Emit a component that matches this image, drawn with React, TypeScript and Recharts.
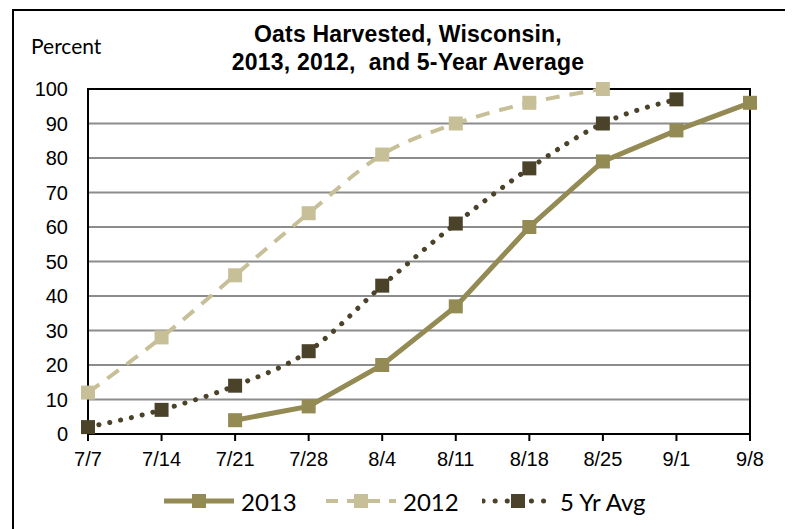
import { LineChart, Line, XAxis, YAxis, CartesianGrid, ReferenceArea } from 'recharts';

const weeks = ['7/7', '7/14', '7/21', '7/28', '8/4', '8/11', '8/18', '8/25', '9/1', '9/8'];
const y2013 = [null, null, 4, 8, 20, 37, 60, 79, 88, 96];
const y2012 = [12, 28, 46, 64, 81, 90, 96, 100, null, null];
const yAvg = [2, 7, 14, 24, 43, 61, 77, 90, 97, null];
const yTicks = [0, 10, 20, 30, 40, 50, 60, 70, 80, 90, 100];

const data = weeks.map((w, i) => ({ week: w, y2013: y2013[i], y2012: y2012[i], avg: yAvg[i] }));

const C2013 = '#948A54';
const C2012 = '#C7BF98';
const CAVG = '#4A4229';
const ARIAL = '"Liberation Sans", Arial, sans-serif';

const Square = (color: string) => (props: any) => {
  const { cx, cy, value } = props;
  if (value == null || cx == null || cy == null) return null;
  return <rect x={cx - 7} y={cy - 7} width={14} height={14} fill={color} />;
};

// legend entries: left edge of sample, sample width, text
const legendItems = [
  { name: '2013', color: C2013, dash: undefined, width: 5, cap: 'butt', x: 155 },
  { name: '2012', color: C2012, dash: '12 9', width: 4, cap: 'butt', x: 317 },
  { name: '5 Yr Avg', color: CAVG, dash: '0.1 12', width: 5, cap: 'round', x: 474 },
];

export default function App() {
  return (
    <div style={{ position: 'relative', width: 785, height: 521, background: '#fff' }}>
      <div style={{ position: 'absolute', left: 4, top: 1, width: 776, height: 540, border: '2px solid #000', borderBottom: 'none', boxSizing: 'border-box' }} />
      <div style={{ position: 'absolute', left: 0, width: 800, top: 12, textAlign: 'center', fontFamily: ARIAL, fontWeight: 'bold', fontSize: 23, lineHeight: '28px', letterSpacing: 0.2 }}>
        Oats Harvested, Wisconsin,<br />2013, 2012,&nbsp; and 5-Year Average
      </div>
      <div style={{ position: 'absolute', left: 23, top: 25, fontFamily: 'Lato, sans-serif', fontSize: 21 }}>Percent</div>
      <LineChart width={785} height={521} data={data} margin={{ top: 81, right: 43, bottom: 65, left: 0 }}>
        <CartesianGrid horizontal vertical={false} stroke="#8C8C8C" strokeWidth={2} />
        <XAxis dataKey="week" type="category" interval={0} stroke="#000" strokeWidth={2} tickSize={7} tickMargin={11}
          tick={{ fill: '#000', fontSize: 20, fontFamily: ARIAL }} />
        <YAxis domain={[0, 100]} ticks={yTicks} width={80} stroke="#000" strokeWidth={2} tickLine={false} tickSize={0} tickMargin={20}
          tick={{ fill: '#000', fontSize: 20, fontFamily: ARIAL }} />
        <ReferenceArea x1="7/7" x2="9/8" y1={0} y2={100} fill="none" stroke="#000" strokeWidth={2} fillOpacity={0} />
        <Line dataKey="y2012" stroke={C2012} strokeWidth={4} strokeDasharray="14 10" type="monotone" dot={Square(C2012)} isAnimationActive={false} />
        <Line dataKey="avg" stroke={CAVG} strokeWidth={5} strokeDasharray="0.1 11" strokeLinecap="round" type="monotone" dot={Square(CAVG)} isAnimationActive={false} />
        <Line dataKey="y2013" stroke={C2013} strokeWidth={5} type="linear" dot={Square(C2013)} isAnimationActive={false} />
      </LineChart>
      {legendItems.map((it) => (
        <div key={it.name} style={{ position: 'absolute', left: it.x, top: 478, height: 30, display: 'flex', alignItems: 'center', fontFamily: 'Lato, sans-serif', fontSize: 24 }}>
          <svg width={72} height={20}>
            <line x1={1} y1={10} x2={71} y2={10} stroke={it.color} strokeWidth={it.width} strokeDasharray={it.dash} strokeLinecap={it.cap as any} />
            <rect x={29} y={3} width={14} height={14} fill={it.color} />
          </svg>
          <span style={{ marginLeft: 6 }}>{it.name}</span>
        </div>
      ))}
    </div>
  );
}
